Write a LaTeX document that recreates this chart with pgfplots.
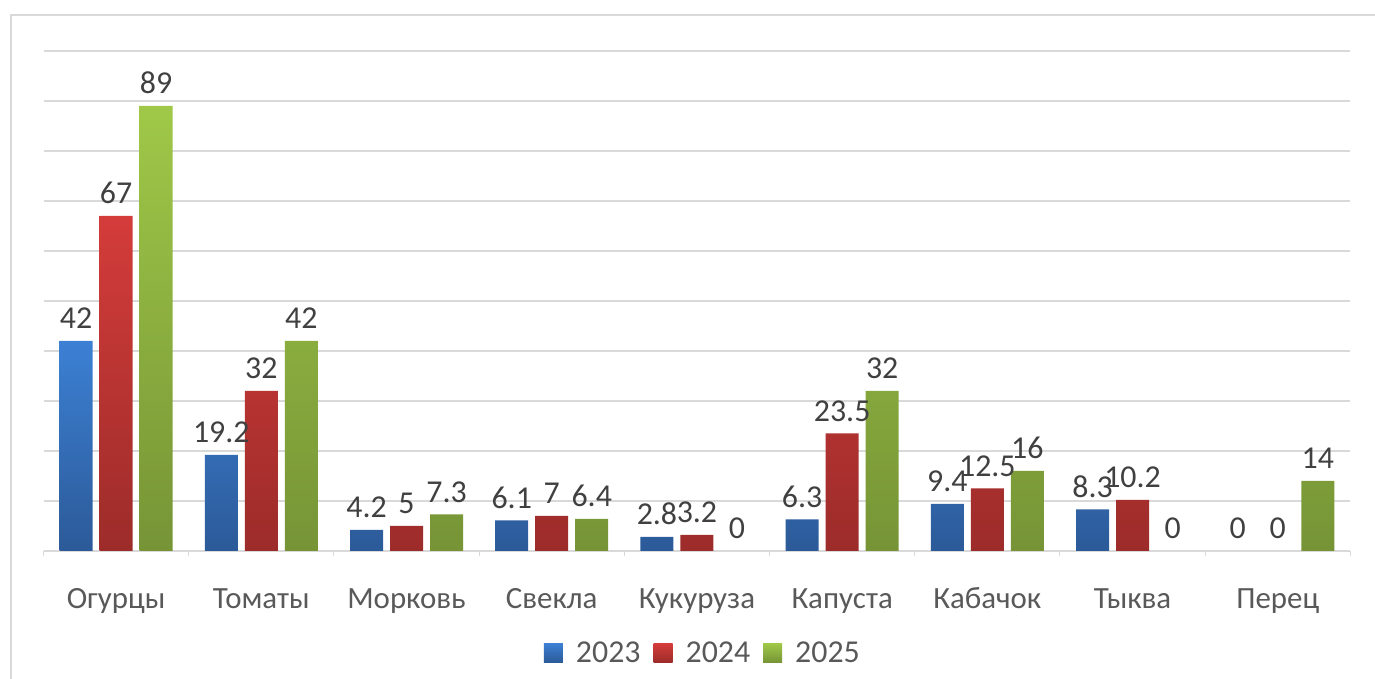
\documentclass[border=0pt]{standalone}
\usepackage{fontspec}
\setmainfont{Carlito}
\usepackage{pgfplots}
\pgfplotsset{compat=1.18}
\definecolor{gridc}{HTML}{D9D9D9}
\definecolor{lblc}{HTML}{404040}
\definecolor{catc}{HTML}{595959}
\definecolor{bT}{HTML}{3C80D4}
\definecolor{bB}{HTML}{2C5A98}
\definecolor{rT}{HTML}{D43C3A}
\definecolor{rB}{HTML}{9C2C2A}
\definecolor{gT}{HTML}{A0C848}
\definecolor{gB}{HTML}{769436}
\begin{document}
\begin{tikzpicture}[x=1bp,y=1bp]
\useasboundingbox (0,0) rectangle (1375,679);
\draw[gridc, line width=2bp] (10.5,0) -- (10.5,663.5) -- (1375,663.5);
\begin{axis}[
  at={(43.5bp,128bp)}, anchor=south west,
  scale only axis, width=1307bp, height=500bp,
  xmin=-0.5, xmax=8.5, ymin=0, ymax=100,
  ybar=7bp, bar width=33bp,
  axis lines*=left,
  y axis line style={draw=none},
  x axis line style={draw=gridc, line width=2.5bp},
  ytick={0,10,...,100}, yticklabels={}, ytick style={draw=none},
  ymajorgrids, major grid style={draw=gridc, line width=1.5bp},
  xtick={0,...,8},
  xticklabels={Огурцы,Томаты,Морковь,Свекла,Кукуруза,Капуста,Кабачок,Тыква,Перец},
  major tick length=0pt,
  minor xtick={-0.5,0.5,...,8.5}, minor tick length=5bp, tick align=outside,
  xtick style={draw=gridc, line width=1bp},
  xticklabel style={font=\fontsize{31}{36}\selectfont, color=catc, inner sep=0pt, text height=20bp, text depth=6bp, anchor=north, yshift=-37bp},
  nodes near coords,
  every node near coord/.append style={font=\fontsize{32}{38}\selectfont, color=lblc, anchor=south, inner sep=0pt, yshift=12bp, /pgf/number format/assume math mode=true},
  legend columns=3,
  legend style={at={(0.5038,-0.204)}, anchor=center, draw=none, fill=none, font=\fontsize{32}{38}\selectfont, text=catc, column sep=13bp, nodes={inner sep=0pt}},
  legend image code/.code={\path[#1, draw=none] (0bp,-9.5bp) rectangle (19bp,9.5bp);},
]
\addplot[bar shift=-40bp, draw=none, top color=bT, bottom color=bB] coordinates {(0,42) (1,19.2) (2,4.2) (3,6.1) (4,2.8) (5,6.3) (6,9.4) (7,8.3)};
\addplot[bar shift=0bp, draw=none, top color=rT, bottom color=rB] coordinates {(0,67) (1,32) (2,5) (3,7) (4,3.2) (5,23.5) (6,12.5) (7,10.2)};
\addplot[bar shift=40bp, draw=none, top color=gT, bottom color=gB] coordinates {(0,89) (1,42) (2,7.3) (3,6.4) (5,32) (6,16) (8,14)};
\legend{2023,2024,2025}
% zero values: labels only, no visible bar
\addplot[forget plot, bar shift=-40bp, draw=none, fill=none] coordinates {(8,0)};
\addplot[forget plot, bar shift=0bp, draw=none, fill=none] coordinates {(8,0)};
\addplot[forget plot, bar shift=40bp, draw=none, fill=none] coordinates {(4,0) (7,0)};
\end{axis}
\end{tikzpicture}
\end{document}
